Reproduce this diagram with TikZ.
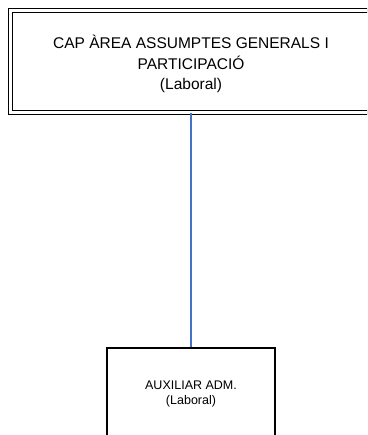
\documentclass[tikz,border=0pt]{standalone}
\usepackage{fontspec}
\setmainfont{Liberation Sans}
\begin{document}
\begin{tikzpicture}[x=1pt,y=-1pt,
  box/.style={draw=black,line width=1.1pt,rectangle,inner sep=0pt},
  dbox/.style={draw=black,line width=1.1pt,double,double distance=3.2pt,rectangle,inner sep=0pt},
  lbl/.style={align=center,inner sep=0pt,font=\fontsize{15.5}{20.5}\selectfont},
  slbl/.style={align=center,inner sep=0pt,font=\fontsize{12.5}{15}\selectfont},
  conn/.style={draw={rgb,255:red,68;green,114;blue,196},line width=1.1pt}]
\useasboundingbox (0,0) rectangle (367,435);
\clip (0,0) rectangle (367,435);
\node[dbox,minimum width=367pt,minimum height=102pt] (top) at (194,61.5) {};
\node[lbl] (toptext) at (191,64) {CAP ÀREA ASSUMPTES GENERALS I\\PARTICIPACIÓ\\(Laboral)};
\node[box,minimum width=168pt,minimum height=110pt] (aux) at (191,403) {};
\node[slbl] (auxtext) at (191,394) {AUXILIAR ADM.\\(Laboral)};
\path (top.south) ++(-3,0) coordinate (c1);
\draw[conn] (c1 |- top.south) -- (c1 |- aux.north);
\end{tikzpicture}
\end{document}
